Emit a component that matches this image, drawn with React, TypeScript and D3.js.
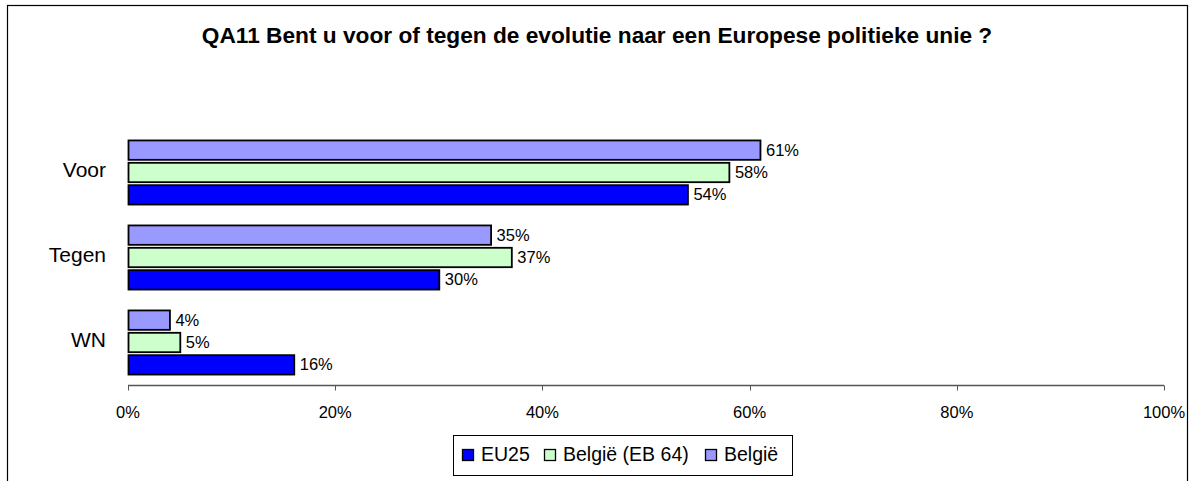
import React, { useEffect, useRef } from "react";
import * as d3 from "d3";

const categories = ["Voor", "Tegen", "WN"];
const seriesNames = ["EU25", "België (EB 64)", "België"];
const seriesColors = ["#0000FF", "#CCFFCC", "#9999FF"];
const eu25 = [54, 30, 16];
const belgieEb64 = [58, 37, 5];
const belgie = [61, 35, 4];
const xTicks = [0, 20, 40, 60, 80, 100];

const App = () => {
  const ref = useRef<SVGSVGElement>(null);

  useEffect(() => {
    const svg = d3.select(ref.current);
    svg.selectAll("*").remove();

    const font = "'Liberation Sans', Arial, sans-serif";
    const values = [eu25, belgieEb64, belgie];

    // outer frame
    svg.append("rect")
      .attr("x", 7.5).attr("y", 5.5)
      .attr("width", 1180).attr("height", 490)
      .attr("fill", "white").attr("stroke", "black").attr("stroke-width", 1.2);

    svg.append("text")
      .attr("x", 597).attr("y", 43)
      .attr("text-anchor", "middle")
      .style("font-family", font).style("font-size", "22.7px").style("font-weight", "bold")
      .text("QA11 Bent u voor of tegen de evolutie naar een Europese politieke unie ?");

    const x = d3.scaleLinear().domain([0, 100]).range([128, 1164]);
    const y = d3.scaleBand().domain(categories).range([130, 385]);
    // series drawn bottom-up within each group (EU25 at bottom)
    const inner = d3.scaleBand<string>()
      .domain([...seriesNames].reverse())
      .range([0, y.bandwidth()])
      .paddingInner(0.133)
      .paddingOuter(0.467);

    // axis
    const axis = svg.append("g").attr("transform", "translate(0,385.5)");
    axis.append("line")
      .attr("x1", x(0)).attr("x2", x(100))
      .attr("stroke", "#555").attr("stroke-width", 1.5);
    xTicks.forEach((t) => {
      axis.append("line")
        .attr("x1", Math.round(x(t)) + 0.5).attr("x2", Math.round(x(t)) + 0.5)
        .attr("y1", 0).attr("y2", 5)
        .attr("stroke", "#555");
      axis.append("text")
        .attr("x", x(t)).attr("y", 32)
        .attr("text-anchor", "middle")
        .style("font-family", font).style("font-size", "16.5px")
        .text(`${t}%`);
    });

    // category labels
    categories.forEach((c) => {
      svg.append("text")
        .attr("x", 106).attr("y", (y(c) ?? 0) + y.bandwidth() / 2 + 4)
        .attr("text-anchor", "end")
        .style("font-family", font).style("font-size", "21px")
        .text(c);
    });

    // bars
    seriesNames.forEach((s, si) => {
      categories.forEach((c, ci) => {
        const v = values[si][ci];
        const by = (y(c) ?? 0) + (inner(s) ?? 0);
        svg.append("rect")
          .attr("x", x(0) + 0.5).attr("y", by)
          .attr("width", x(v) - x(0)).attr("height", inner.bandwidth())
          .attr("fill", seriesColors[si])
          .attr("stroke", "black").attr("stroke-width", 1.8);
        svg.append("text")
          .attr("x", x(v) + 6).attr("y", by + inner.bandwidth() / 2 + 5.5)
          .style("font-family", font).style("font-size", "16.5px")
          .text(`${v}%`);
      });
    });

    // legend
    const lg = svg.append("g");
    lg.append("rect")
      .attr("x", 453.5).attr("y", 435.5)
      .attr("width", 339).attr("height", 40)
      .attr("fill", "white").attr("stroke", "black");
    const legendX = [462, 544, 705];
    seriesNames.forEach((s, i) => {
      lg.append("rect")
        .attr("x", legendX[i] + 0.5).attr("y", 449.5)
        .attr("width", 11).attr("height", 11)
        .attr("fill", seriesColors[i]).attr("stroke", "black").attr("stroke-width", 1.3);
      lg.append("text")
        .attr("x", legendX[i] + 19).attr("y", 461)
        .style("font-family", font).style("font-size", "19.5px")
        .text(s);
    });
  }, []);

  return (
    <svg ref={ref} width={1190} height={481} style={{ position: "absolute", left: 0, top: 0 }} />
  );
};

export default App;
